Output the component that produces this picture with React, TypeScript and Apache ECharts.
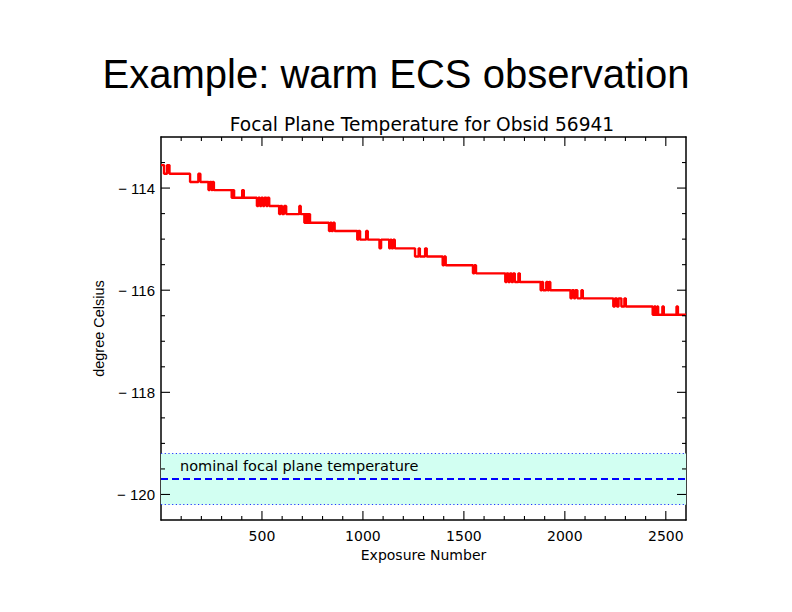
import React, { useEffect, useRef } from "react";
import * as echarts from "echarts";

const mainTitle = "Example: warm ECS observation";
const plotTitle = "Focal Plane Temperature for Obsid 56941";
const xName = "Exposure Number";
const yName = "degree Celsius";
const bandLabel = "nominal focal plane temperature";

const xMin = 0;
const xMax = 2600;
const yMin = -120.5;
const yMax = -113;

const xTickLabels = [500, 1000, 1500, 2000, 2500];
const yTickLabels = [-120, -118, -116, -114];
const xMinorTicks = [
  100, 200, 300, 400, 600, 700, 800, 900, 1100, 1200, 1300, 1400, 1600, 1700, 1800,
  1900, 2100, 2200, 2300, 2400,
];
const yMinorTicks = [-119.5, -119, -118.5, -117.5, -117, -116.5, -115.5, -115, -114.5, -113.5];

const nominalTemp = -119.7;
const bandUpper = -119.2;
const bandLower = -120.2;

const exposure = [
  0, 15, 30, 42, 144, 185, 195, 235, 242, 250, 255, 262, 350, 356, 362, 402, 410,
  475, 482, 490, 497, 505, 512, 522, 528, 536, 585, 592, 600, 610, 620, 685, 692,
  710, 716, 724, 730, 738, 832, 838, 845, 852, 860, 972, 978, 986, 1016, 1024,
  1082, 1090, 1130, 1136, 1142, 1150, 1158, 1258, 1276, 1282, 1308, 1316, 1395,
  1402, 1410, 1545, 1552, 1560, 1705, 1712, 1720, 1728, 1736, 1744, 1752, 1770,
  1777, 1880, 1886, 1892, 1908, 1915, 1922, 1928, 2028, 2035, 2045, 2052, 2062,
  2082, 2089, 2240, 2248, 2258, 2266, 2280, 2295, 2302, 2435, 2442, 2450, 2457,
  2462, 2483, 2490, 2553, 2560, 2600,
];

const temperature = [
  -113.55, -113.72, -113.55, -113.72, -113.88, -113.72, -113.88, -114.04, -113.88,
  -114.04, -113.88, -114.04, -114.19, -114.04, -114.19, -114.04, -114.19,
  -114.35, -114.19, -114.35, -114.19, -114.35, -114.19, -114.35, -114.19, -114.35,
  -114.51, -114.35, -114.51, -114.35, -114.51, -114.35, -114.51,
  -114.68, -114.51, -114.68, -114.51, -114.68, -114.84, -114.68, -114.84, -114.68,
  -114.84, -115.01, -114.84, -115.01, -114.84, -115.01,
  -115.18, -115.01, -115.18, -115.01, -115.18, -115.01, -115.18, -115.34, -115.18,
  -115.34, -115.18, -115.34, -115.51,
  -115.34, -115.51, -115.67, -115.51, -115.67, -115.84, -115.67, -115.84, -115.67,
  -115.84, -115.67, -115.84, -115.67,
  -115.84, -116.0, -115.84, -116.0, -115.84, -116.0, -115.84, -116.0, -116.16,
  -116.0, -116.16, -116.0, -116.16,
  -116.0, -116.16, -116.32, -116.16, -116.32, -116.16, -116.32, -116.16, -116.32,
  -116.48, -116.32, -116.48, -116.32,
  -116.48, -116.32, -116.48, -116.32, -116.48, -116.48,
];

const hersheyFont = "DejaVu Sans";
const sansFont = "Liberation Sans";

function frameLine() {
  return { show: true, onZero: false, lineStyle: { color: "#000", width: 1.5 } };
}

export default function App() {
  const ref = useRef<HTMLDivElement>(null);

  useEffect(() => {
    if (!ref.current) return;
    const chart = echarts.init(ref.current, null, { renderer: "svg" });
    const lineData = exposure.map((x, i) => [x, temperature[i]]);
    const isIn = (arr: number[], v: number) => arr.some((t) => Math.abs(t - v) < 1e-6);

    const option: any = {
      animation: false,
      backgroundColor: "#fff",
      graphic: [
        {
          type: "text",
          x: 396,
          y: 74,
          style: {
            text: mainTitle,
            fontFamily: sansFont,
            fontSize: 40,
            fill: "#000",
            textAlign: "center",
            textVerticalAlign: "middle",
          },
        },
        {
          type: "text",
          x: 422,
          y: 124,
          style: {
            text: plotTitle,
            fontFamily: hersheyFont,
            fontSize: 18.6,
            fill: "#000",
            textAlign: "center",
            textVerticalAlign: "middle",
          },
        },
      ],
      grid: { left: 161, top: 137, width: 525, height: 383, containLabel: false },
      xAxis: [
        {
          type: "value",
          position: "bottom",
          min: xMin,
          max: xMax,
          interval: 100,
          axisLine: frameLine(),
          axisTick: { show: false },
          splitLine: { show: false },
          axisLabel: {
            show: true,
            margin: 9,
            color: "#000",
            fontFamily: hersheyFont,
            fontSize: 14,
            hideOverlap: false,
            formatter: (v: number) => (isIn(xTickLabels, v) ? String(v) : ""),
          },
          name: xName,
          nameLocation: "middle",
          nameGap: 26,
          nameTextStyle: { color: "#000", fontFamily: hersheyFont, fontSize: 14 },
        },
        {
          type: "value",
          position: "top",
          min: xMin,
          max: xMax,
          interval: 100,
          axisLine: frameLine(),
          axisTick: { show: false },
          splitLine: { show: false },
          axisLabel: { show: false },
        },
      ],
      yAxis: [
        {
          type: "value",
          position: "left",
          min: yMin,
          max: yMax,
          interval: 0.5,
          axisLine: frameLine(),
          axisTick: { show: false },
          splitLine: { show: false },
          axisLabel: {
            show: true,
            margin: 6,
            color: "#000",
            fontFamily: sansFont,
            fontSize: 15,
            hideOverlap: false,
            formatter: (v: number) =>
              isIn(yTickLabels, v) ? (v < 0 ? "\u2212 " : "") + String(Math.abs(Math.round(v))) : "",
          },
          name: yName,
          nameLocation: "middle",
          nameGap: 54,
          nameRotate: 90,
          nameTextStyle: { color: "#000", fontFamily: sansFont, fontSize: 14.5 },
        },
        {
          type: "value",
          position: "right",
          min: yMin,
          max: yMax,
          interval: 0.5,
          axisLine: frameLine(),
          axisTick: { show: false },
          splitLine: { show: false },
          axisLabel: { show: false },
        },
      ],
      series: [
        {
          type: "line",
          name: "temperature",
          xAxisIndex: 0,
          yAxisIndex: 0,
          data: lineData,
          step: "end",
          showSymbol: false,
          symbol: "none",
          lineStyle: { color: "#ff0000", width: 2.4 },
          z: 5,
          markArea: {
            silent: true,
            itemStyle: { color: "#d2fff2" },
            label: {
              show: true,
              position: "insideTopLeft",
              distance: 5,
              offset: [14, 0],
              color: "#000",
              fontFamily: hersheyFont,
              fontSize: 14.5,
              formatter: () => bandLabel,
            },
            data: [[{ yAxis: bandLower }, { yAxis: bandUpper }]],
          },
          markLine: {
            silent: true,
            symbol: "none",
            label: { show: false },
            data: [
              { yAxis: bandUpper, lineStyle: { color: "#2233ff", width: 1.2, type: [1.2, 2.5] } },
              { yAxis: nominalTemp, lineStyle: { color: "#0000ff", width: 2, type: [7, 4] } },
              { yAxis: bandLower, lineStyle: { color: "#2233ff", width: 1.2, type: [1.2, 2.5] } },
            ],
          },
        },
        {
          type: "custom",
          name: "frameTicks",
          xAxisIndex: 0,
          yAxisIndex: 0,
          silent: true,
          clip: false,
          z: 10,
          data: [[xMin, yMin]],
          renderItem: (params: any, api: any) => {
            const cs = params.coordSys;
            const st = { stroke: "#000", lineWidth: 1.1 };
            const bottom = cs.y + cs.height;
            const top = cs.y;
            const left = cs.x;
            const right = cs.x + cs.width;
            const children: any[] = [];
            const addX = (v: number, len: number) => {
              const px = api.coord([v, yMin])[0];
              children.push({ type: "line", shape: { x1: px, y1: bottom, x2: px, y2: bottom - len }, style: st });
              children.push({ type: "line", shape: { x1: px, y1: top, x2: px, y2: top + len }, style: st });
            };
            const addY = (v: number, len: number) => {
              const py = api.coord([xMin, v])[1];
              children.push({ type: "line", shape: { x1: left, y1: py, x2: left + len, y2: py }, style: st });
              children.push({ type: "line", shape: { x1: right, y1: py, x2: right - len, y2: py }, style: st });
            };
            xTickLabels.forEach((v) => addX(v, 9));
            xMinorTicks.forEach((v) => addX(v, 4));
            yTickLabels.forEach((v) => addY(v, 9));
            yMinorTicks.forEach((v) => addY(v, 4));
            return { type: "group", children };
          },
        },
      ],
    };

    chart.setOption(option);
    return () => chart.dispose();
  }, []);

  return (
    <div
      ref={ref}
      style={{ position: "fixed", left: 0, top: 0, width: 792, height: 612, background: "#fff" }}
    />
  );
}
